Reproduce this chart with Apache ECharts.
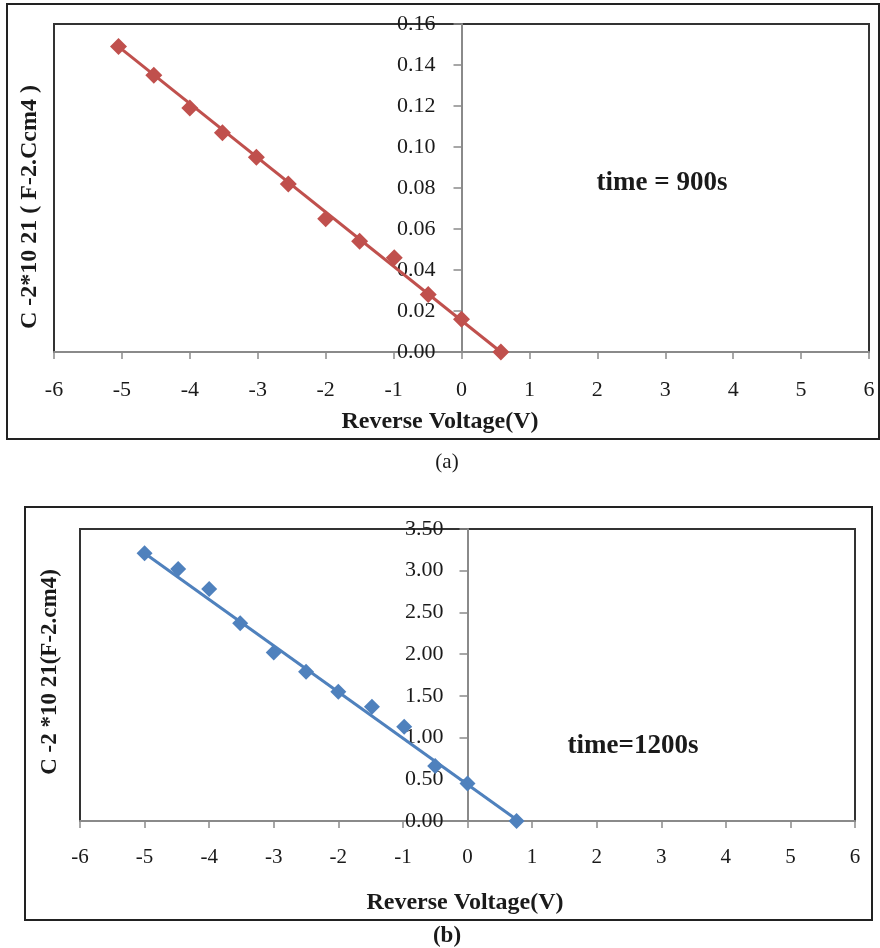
<!DOCTYPE html>
<html>
<head>
<meta charset="utf-8">
<script src="https://cdn.jsdelivr.net/npm/echarts@6/dist/echarts.min.js"></script>
<style>
  html, body { margin: 0; padding: 0; background: #fff; }
  #main { width: 880px; height: 948px; }
</style>
</head>
<body>
<div id="main"></div>
<script>
// (a) time = 900s
var voltA = [-5.05, -4.53, -4.0, -3.52, -3.02, -2.55, -2.0, -1.5, -0.99, -0.49, 0.0, 0.58];
var capA = [0.149, 0.135, 0.119, 0.107, 0.095, 0.082, 0.065, 0.054, 0.046, 0.028, 0.016, 0.0];
var fitVoltA = [-5.05, 0.58];
var fitCapA = [0.149, 0.0];

// (b) time = 1200s
var voltB = [-5.0, -4.48, -4.0, -3.52, -3.0, -2.5, -2.0, -1.48, -0.98, -0.5, 0.0, 0.76];
var capB = [3.21, 3.02, 2.78, 2.37, 2.02, 1.79, 1.55, 1.37, 1.13, 0.66, 0.45, 0.0];
var fitVoltB = [-5.0, 0.79];
var fitCapB = [3.21, 0.0];

var xTicks = [-6, -5, -4, -3, -2, -1, 0, 1, 2, 3, 4, 5, 6];

function pairs(xs, ys) {
  return xs.map(function (x, i) { return [x, ys[i]]; });
}

var serif = 'Liberation Serif';
var txt = '#1a1a1a';

function xAxisFor(idx, margin, size) {
  return {
    type: 'value', gridIndex: idx,
    min: xTicks[0], max: xTicks[xTicks.length - 1], interval: 1,
    splitLine: { show: false },
    axisLine: { onZero: false, lineStyle: { color: '#8a8a8a', width: 2 } },
    axisTick: { show: true, inside: false, length: 7, lineStyle: { color: '#8a8a8a', width: 1.5 } },
    axisLabel: { margin: margin, fontFamily: serif, fontSize: size, color: txt }
  };
}

// y axis sits at voltage 0, so it is pushed right from the grid's left edge
function yAxisFor(idx, max, step, shift, margin, size) {
  return {
    type: 'value', gridIndex: idx, position: 'left', offset: -shift,
    min: 0, max: max, interval: step,
    splitLine: { show: false },
    axisLine: { onZero: false, lineStyle: { color: '#8a8a8a', width: 2 } },
    axisTick: { show: true, inside: false, length: 8, lineStyle: { color: '#8a8a8a', width: 1.5 } },
    axisLabel: {
      margin: margin, fontFamily: serif, fontSize: size, color: txt,
      formatter: function (v) { return v.toFixed(2); }
    }
  };
}

var myChart = echarts.init(document.getElementById('main'));

var option = {
  backgroundColor: '#fff',
  animation: false,
  grid: [
    { left: 54, top: 24, width: 815, height: 328, show: true, borderColor: '#333', borderWidth: 2 },
    { left: 80, top: 529, width: 775, height: 292, show: true, borderColor: '#333', borderWidth: 2 }
  ],
  xAxis: [xAxisFor(0, 27, 22), xAxisFor(1, 26, 21)],
  yAxis: [yAxisFor(0, 0.16, 0.02, 407.5, 26, 22), yAxisFor(1, 3.5, 0.5, 387.5, 24, 22)],
  series: [
    {
      type: 'line', xAxisIndex: 0, yAxisIndex: 0,
      data: pairs(fitVoltA, fitCapA),
      showSymbol: false, clip: false,
      lineStyle: { color: '#C0504D', width: 3 }
    },
    {
      type: 'scatter', xAxisIndex: 0, yAxisIndex: 0,
      data: pairs(voltA, capA),
      symbol: 'diamond', symbolSize: [17, 17],
      itemStyle: { color: '#C0504D', opacity: 1 }
    },
    {
      type: 'line', xAxisIndex: 1, yAxisIndex: 1,
      data: pairs(fitVoltB, fitCapB),
      showSymbol: false, clip: false,
      lineStyle: { color: '#4F81BD', width: 3 }
    },
    {
      type: 'scatter', xAxisIndex: 1, yAxisIndex: 1,
      data: pairs(voltB, capB),
      symbol: 'diamond', symbolSize: [16, 16],
      itemStyle: { color: '#4F81BD', opacity: 1 }
    }
  ],
  graphic: [
    // outer frames
    { type: 'rect', shape: { x: 7, y: 4, width: 872, height: 435 }, style: { fill: 'none', stroke: '#222', lineWidth: 2 }, z: 10 },
    { type: 'rect', shape: { x: 25, y: 507, width: 847, height: 413 }, style: { fill: 'none', stroke: '#222', lineWidth: 2 }, z: 10 },
    // axis titles
    { type: 'text', x: 440, y: 422, style: { text: 'Reverse Voltage(V)', font: 'bold 24px "Liberation Serif"', fill: txt, align: 'center', verticalAlign: 'middle' }, z: 10 },
    { type: 'text', x: 30, y: 207, rotation: Math.PI / 2, style: { text: 'C -2*10 21 ( F-2.Ccm4 )', font: 'bold 24px "Liberation Serif"', fill: txt, align: 'center', verticalAlign: 'middle' }, z: 10 },
    { type: 'text', x: 465, y: 903, style: { text: 'Reverse Voltage(V)', font: 'bold 24px "Liberation Serif"', fill: txt, align: 'center', verticalAlign: 'middle' }, z: 10 },
    { type: 'text', x: 50, y: 672, rotation: Math.PI / 2, style: { text: 'C -2 *10 21(F-2.cm4)', font: 'bold 23px "Liberation Serif"', fill: txt, align: 'center', verticalAlign: 'middle' }, z: 10 },
    // annotations
    { type: 'text', x: 662, y: 183, style: { text: 'time = 900s', font: 'bold 27px "Liberation Serif"', fill: txt, align: 'center', verticalAlign: 'middle' }, z: 10 },
    { type: 'text', x: 633, y: 746, style: { text: 'time=1200s', font: 'bold 27px "Liberation Serif"', fill: txt, align: 'center', verticalAlign: 'middle' }, z: 10 },
    // captions
    { type: 'text', x: 447, y: 462, style: { text: '(a)', font: '21px "Liberation Serif"', fill: txt, align: 'center', verticalAlign: 'middle' }, z: 10 },
    { type: 'text', x: 447, y: 936, style: { text: '(b)', font: 'bold 23px "Liberation Serif"', fill: txt, align: 'center', verticalAlign: 'middle' }, z: 10 }
  ]
};

myChart.setOption(option);
</script>
</body>
</html>
